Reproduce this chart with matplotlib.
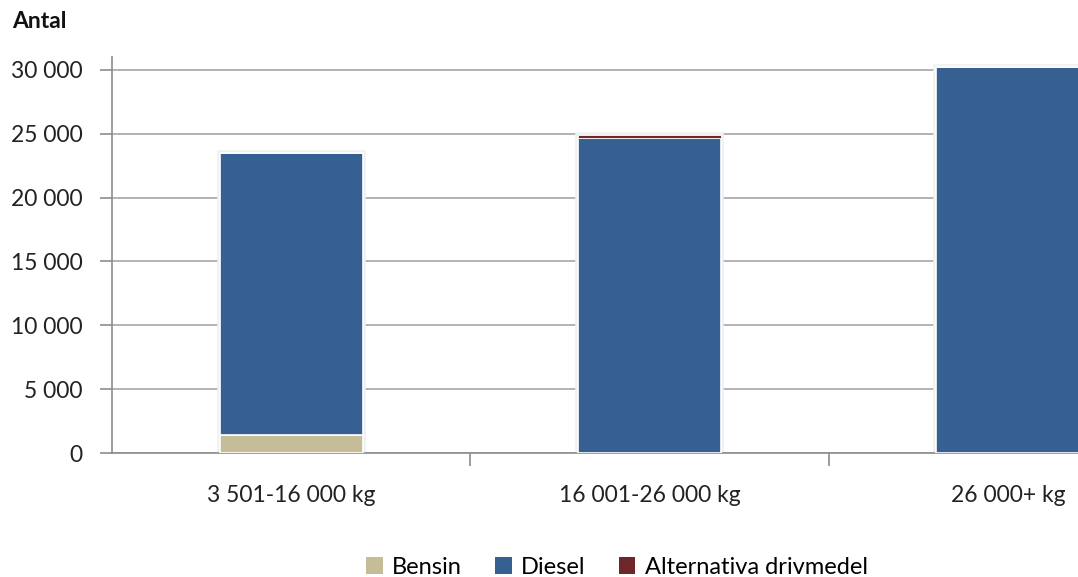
import numpy as np
import matplotlib
matplotlib.use("Agg")
import matplotlib.pyplot as plt
import matplotlib.patheffects as pe
from matplotlib.patches import Patch

plt.rcParams['font.family'] = ['Lato', 'DejaVu Sans']

categories = ['3 501-16 000 kg', '16 001-26 000 kg', '26 000+ kg']
bensin = np.array([1400, 0, 0])
diesel = np.array([22100, 24650, 30250])
alternativa = np.array([0, 250, 0])

colors = {'Bensin': '#c4bd97', 'Diesel': '#376092', 'Alternativa drivmedel': '#6e2626'}

fig = plt.figure(figsize=(10.78, 5.77), dpi=100)
# the plot area runs past the right edge of the figure, cutting the last bar
ax = fig.add_axes([112 / 1078, 1 - 453 / 577, 1075 / 1078, (453 - 57) / 577])

x = np.arange(len(categories))
w = 0.4
total = bensin + diesel + alternativa

# soft halo behind each stacked bar
ax.bar(x, total, w, color='white', zorder=2,
       path_effects=[pe.withStroke(linewidth=4, foreground='#f0f0f0'), pe.Normal()])

ax.bar(x, bensin, w, color=colors['Bensin'], edgecolor='white', linewidth=1.2, zorder=3)
ax.bar(x, diesel, w, bottom=bensin, color=colors['Diesel'], edgecolor='white', linewidth=1.2, zorder=3)
ax.bar(x, alternativa, w, bottom=bensin + diesel, color=colors['Alternativa drivmedel'],
       edgecolor='white', linewidth=0.6, zorder=3)

ax.set_xlim(-0.5, 2.5)
ax.set_ylim(0, 31000)
yt = np.arange(0, 30001, 5000)
ax.set_yticks(yt)
ax.set_yticklabels([f'{v:,}'.replace(',', ' ') for v in yt], fontsize=16.5, color='#222222')
ax.yaxis.grid(True, color='#a6a6a6', linewidth=1.2)
ax.set_axisbelow(True)

ax.set_xticks([0.5, 1.5])
ax.set_xticklabels([])
ax.tick_params(axis='x', length=9, width=1.2, color='#8c8c8c', direction='out')
ax.tick_params(axis='y', length=9, width=1.2, color='#8c8c8c', direction='out', pad=12)
for i, c in enumerate(categories):
    ax.text(i, -3300, c, ha='center', va='center', fontsize=16.5, color='#222222')

for s in ['top', 'right']:
    ax.spines[s].set_visible(False)
for s in ['left', 'bottom']:
    ax.spines[s].set_color('#8c8c8c')
    ax.spines[s].set_linewidth(1.2)

fig.text(12 / 1078, 1 - 22 / 577, 'Antal', fontsize=16.5, fontweight='bold', va='center', ha='left',
         color='#111111')

handles = [Patch(facecolor=colors[k]) for k in colors]
fig.legend(handles, list(colors), loc='center', bbox_to_anchor=(617 / 1078, 1 - 567 / 577),
           ncol=3, frameon=False, fontsize=17, handlelength=0.7, handleheight=0.7,
           handletextpad=0.4, columnspacing=1.4)

fig.savefig('out.png', dpi=100)
